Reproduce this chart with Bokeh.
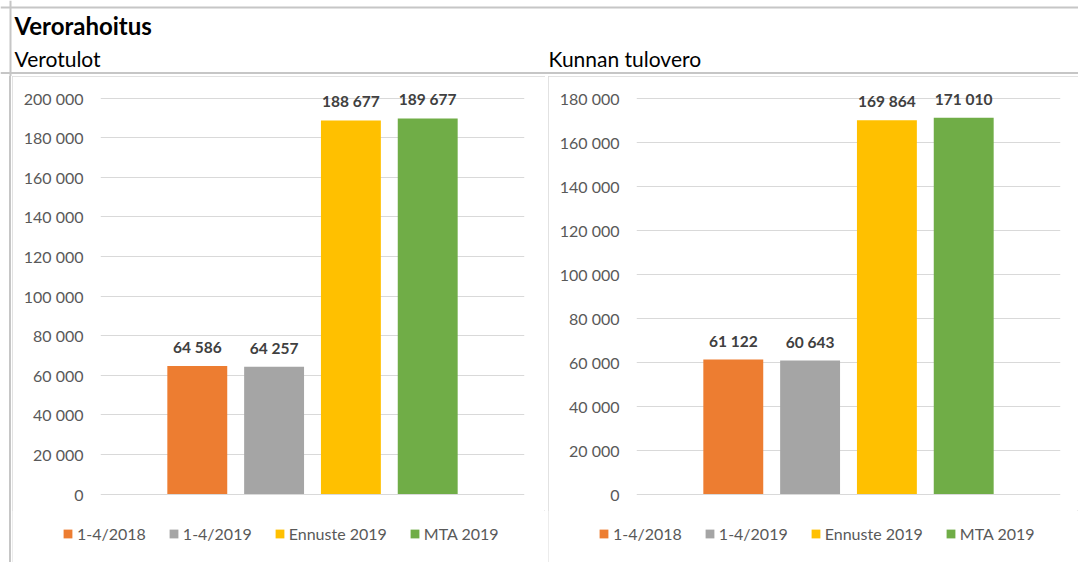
from bokeh.plotting import figure
from bokeh.models import (ColumnDataSource, FactorRange, Range1d, Legend, LegendItem,
                          Label, Span, FixedTicker, CustomJSTickFormatter, Spacer)
from bokeh.layouts import column, row
from bokeh.core.properties import value
from bokeh.embed import file_html
from bokeh.resources import INLINE

# ---------------- data ----------------
main_title = "Verorahoitus"
chart_titles = ["Verotulot", "Kunnan tulovero"]
series = ["1-4/2018", "1-4/2019", "Ennuste 2019", "MTA 2019"]
colors = ["#ED7D31", "#A5A5A5", "#FFC000", "#70AD47"]
verotulot = [64586, 64257, 188677, 189677]
kunnan_tulovero = [61122, 60643, 169864, 171010]
ticks_verotulot = [0, 20000, 40000, 60000, 80000, 100000, 120000, 140000, 160000, 180000, 200000]
ticks_tulovero = [0, 20000, 40000, 60000, 80000, 100000, 120000, 140000, 160000, 180000]

FONT = "Lato"
CELL_LINE = "#c6c6c6"
BOX_LINE = "1px solid #d9d9d9"
CHART_TOP = 76.0
PLOT_H = 434      # bars + axis part of a chart box
LEG_H = 52        # legend strip at the bottom of a chart box


def fmt(v):
    return f"{v:,}".replace(",", " ")


def make_chart(values, ticks, width, min_right):
    ymax = ticks[-1]
    # pixel geometry (page y) of the frame and of the value axis
    frame_top, frame_bottom = 86.0, 496.0
    zero_px, max_px = 493.5, 97.5
    ppu = (zero_px - max_px) / ymax
    y_end = ymax + (max_px - frame_top) / ppu
    y_start = -(frame_bottom - zero_px) / ppu

    src = ColumnDataSource(dict(series=series, value=values, color=colors,
                                label=[fmt(v) for v in values]))
    p = figure(width=width, height=PLOT_H,
               x_range=FactorRange(factors=series, range_padding=0.76,
                                   range_padding_units="absolute"),
               y_range=Range1d(y_start, y_end),
               x_axis_location=None,
               output_backend="svg", toolbar_location=None,
               min_border_left=88, min_border_right=min_right,
               min_border_top=int(frame_top - CHART_TOP),
               min_border_bottom=int(CHART_TOP + PLOT_H - frame_bottom),
               border_fill_color="white", background_fill_color="white",
               outline_line_color=None)
    p.vbar(x="series", top="value", width=0.78, fill_color="color",
           line_color=None, source=src)
    p.text(x="series", y="value", text="label", source=src,
           text_align="center", text_baseline="middle", y_offset=-19,
           text_font=value(FONT), text_font_size="15.5px",
           text_font_style="bold", text_color="#404040")

    p.xgrid.visible = False
    ax = p.yaxis[0]
    ax.ticker = FixedTicker(ticks=ticks)
    ax.formatter = CustomJSTickFormatter(
        code="return tick.toFixed(0).replace(/\\B(?=(\\d{3})+(?!\\d))/g, ' ');")
    ax.axis_line_color = None
    ax.major_tick_line_color = None
    ax.minor_tick_line_color = None
    ax.major_tick_out = 0
    ax.major_tick_in = 0
    ax.major_label_standoff = 17
    ax.major_label_text_font = FONT
    ax.major_label_text_font_size = "16px"
    ax.major_label_text_color = "#595959"

    p.ygrid.grid_line_color = "#d9d9d9"
    p.ygrid.grid_line_width = 1
    p.ygrid.ticker = FixedTicker(ticks=ticks)

    # legend strip: its own small figure; its swatch renderer has zero-height
    # bars at y=0, which lies outside this strip's view
    lf = figure(width=width, height=LEG_H,
                x_range=FactorRange(factors=series), y_range=Range1d(1, 2),
                x_axis_location=None, y_axis_location=None,
                output_backend="svg", toolbar_location=None,
                min_border=0, outline_line_color=None,
                border_fill_color="white", background_fill_color="white")
    lf.grid.visible = False
    lr = lf.vbar(x="series", top=0, bottom=0, width=0.78, fill_color="color",
                 line_color=None, source=src)
    legend = Legend(items=[LegendItem(label=s, renderers=[lr], index=i)
                           for i, s in enumerate(series)],
                    orientation="horizontal", location=(50, 19),
                    padding=0, margin=0, spacing=22, label_standoff=4,
                    glyph_width=11, glyph_height=11, label_height=20,
                    label_text_font=FONT, label_text_font_size="16px",
                    label_text_color="#595959",
                    background_fill_alpha=0, border_line_alpha=0)
    lf.add_layout(legend)
    return column(p, row(lf), styles={"outline": BOX_LINE, "outline-offset": "-1px"})


# ---------------- header ----------------
hdr = figure(width=1078, height=76, x_range=Range1d(0, 1078), y_range=Range1d(76, 0),
             x_axis_location=None, y_axis_location=None,
             output_backend="svg", toolbar_location=None,
             min_border=0, outline_line_color=None,
             border_fill_color="white", background_fill_color="white")
hdr.grid.visible = False
hdr.add_layout(Span(location=7, dimension="width", line_color=CELL_LINE, line_width=2))
hdr.add_layout(Span(location=10, dimension="height", line_color=CELL_LINE, line_width=2))
hdr.add_layout(Span(location=72.5, dimension="width", line_color=CELL_LINE, line_width=2))
hdr.add_layout(Label(x=14, y=25, text=main_title, text_baseline="middle",
                     text_font=FONT, text_font_size="24px", text_font_style="bold",
                     text_color="#000000"))
hdr.add_layout(Label(x=14, y=58, text=chart_titles[0], text_baseline="middle",
                     text_font=FONT, text_font_size="21px", text_color="#000000"))
hdr.add_layout(Label(x=548, y=58, text=chart_titles[1], text_baseline="middle",
                     text_font=FONT, text_font_size="21px", text_color="#000000"))

left = make_chart(verotulot, ticks_verotulot, 533, 21)
right = make_chart(kunnan_tulovero, ticks_tulovero, 530, 18)

sp1 = Spacer(width=12, height=PLOT_H + LEG_H,
             styles={"background": "linear-gradient(to right, #ffffff 9px, #c6c6c6 9px, #c6c6c6 11px, #ffffff 11px)"})
sp2 = Spacer(width=3, height=PLOT_H + LEG_H)

layout = column(hdr, row(sp1, left, sp2, right))

open("out.html", "w").write(file_html(layout, INLINE))
